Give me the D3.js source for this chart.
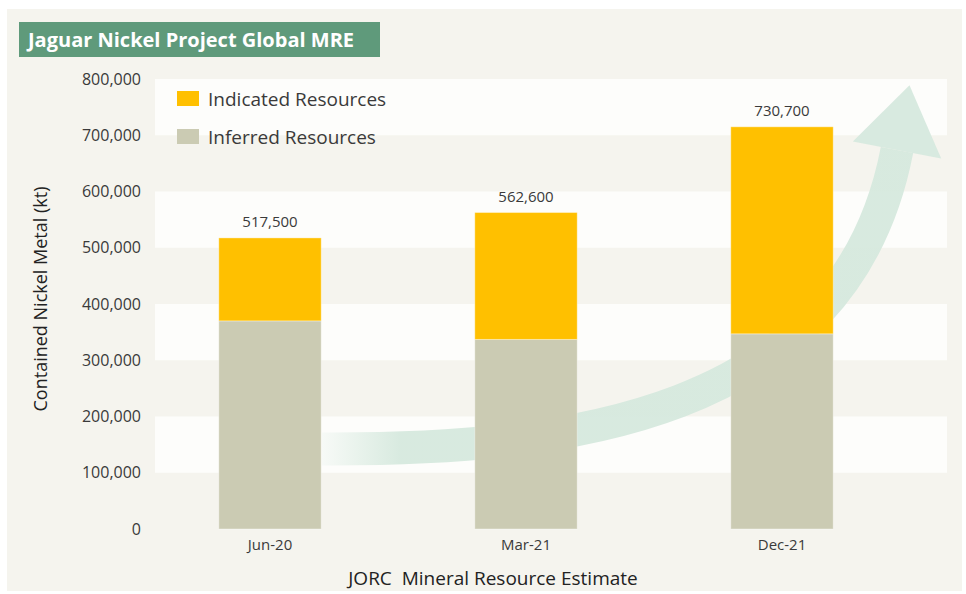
<!DOCTYPE html>
<html>
<head>
<meta charset="utf-8">
<script src="https://cdn.jsdelivr.net/npm/d3@7"></script>
<style>
  html, body { margin: 0; padding: 0; background: #ffffff; }
  svg { display: block; font-family: "Open Sans", "Lato", sans-serif; }
</style>
</head>
<body>
<div id="chart"></div>
<script>
// data
var categories = ["Jun-20", "Mar-21", "Dec-21"];
var inferred = [370000, 337000, 347000];
var indicated = [147500, 225600, 368000];
var totalLabels = ["517,500", "562,600", "730,700"];
var yTicks = [0, 100000, 200000, 300000, 400000, 500000, 600000, 700000, 800000];
var seriesNames = ["Indicated Resources", "Inferred Resources"];
var seriesColors = ["#ffc000", "#cbcbb3"];

var W = 966, H = 594;

var svg = d3.select("#chart")
  .append("svg")
  .attr("width", W)
  .attr("height", H);

// cream panel
svg.append("rect")
  .attr("x", 7).attr("y", 9)
  .attr("width", 955).attr("height", 582)
  .attr("fill", "#f5f4ee");

// title box
svg.append("rect")
  .attr("x", 19).attr("y", 22)
  .attr("width", 361).attr("height", 35)
  .attr("fill", "#5f9a7b");
svg.append("text")
  .attr("x", 28).attr("y", 47)
  .attr("fill", "#ffffff")
  .style("font-size", "20px")
  .style("font-weight", "bold")
  .text("Jaguar Nickel Project Global MRE");

// scales
var y = d3.scaleLinear()
  .domain([0, 800000])
  .range([529, 79]);

var x = d3.scaleBand()
  .domain(categories)
  .range([142, 910])
  .paddingInner(0.6)
  .paddingOuter(0.3);

// alternating bands
var bandPairs = [];
for (var i = 1; i < yTicks.length - 1; i += 2) {
  bandPairs.push([yTicks[i], yTicks[i + 1]]);
}
svg.append("g")
  .selectAll("rect")
  .data(bandPairs)
  .enter()
  .append("rect")
    .attr("x", 155)
    .attr("width", 947 - 155)
    .attr("y", function(d) { return y(d[1]); })
    .attr("height", function(d) { return y(d[0]) - y(d[1]); })
    .attr("fill", "#fdfdfb");

// y axis labels (no lines)
var yAxis = svg.append("g")
  .attr("transform", "translate(141,0)")
  .call(d3.axisLeft(y).tickValues(yTicks).tickSize(0).tickPadding(0).tickFormat(d3.format(",")));
yAxis.select(".domain").remove();
yAxis.selectAll("text")
  .style("font-family", "'Open Sans', sans-serif")
  .style("font-size", "16px")
  .attr("fill", "#3a3a3a");

// growth arrow (decoration)
var defs = svg.append("defs");
var grad = defs.append("linearGradient")
  .attr("id", "arrowFade")
  .attr("gradientUnits", "userSpaceOnUse")
  .attr("x1", 322).attr("y1", 0)
  .attr("x2", 400).attr("y2", 0);
grad.append("stop").attr("offset", 0).attr("stop-color", "#d6e9de").attr("stop-opacity", 0.15);
grad.append("stop").attr("offset", 1).attr("stop-color", "#d6e9de").attr("stop-opacity", 0.95);

var p0 = [322, 449], p1 = [560, 450], p2 = [845, 420], p3 = [897, 150];
var arrowPath = d3.path();
arrowPath.moveTo(p0[0], p0[1]);
arrowPath.bezierCurveTo(p1[0], p1[1], p2[0], p2[1], p3[0], p3[1]);
svg.append("path")
  .attr("d", arrowPath.toString())
  .attr("fill", "none")
  .attr("stroke", "url(#arrowFade)")
  .attr("stroke-width", 33);

// arrow head, aligned with the curve end
var dx = p3[0] - p2[0], dy = p3[1] - p2[1];
var len = Math.sqrt(dx * dx + dy * dy);
var ux = dx / len, uy = dy / len;
var nx = -uy, ny = ux;
var headLen = 66, headHalf = 45;
var head = [
  [p3[0] + nx * headHalf, p3[1] + ny * headHalf],
  [p3[0] + ux * headLen, p3[1] + uy * headLen],
  [p3[0] - nx * headHalf, p3[1] - ny * headHalf]
];
svg.append("path")
  .attr("d", d3.line()(head) + "Z")
  .attr("fill", "#d6e9de")
  .attr("fill-opacity", 0.95);

// stacked bars
var stackData = categories.map(function(c, i) {
  return { cat: c, inferred: inferred[i], indicated: indicated[i] };
});
var stacked = d3.stack().keys(["inferred", "indicated"])(stackData);
var keyColor = { inferred: seriesColors[1], indicated: seriesColors[0] };

svg.append("g")
  .selectAll("g")
  .data(stacked)
  .enter()
  .append("g")
    .attr("fill", function(d) { return keyColor[d.key]; })
  .selectAll("rect")
  .data(function(d) { return d; })
  .enter()
  .append("rect")
    .attr("x", function(d) { return x(d.data.cat); })
    .attr("y", function(d) { return y(d[1]); })
    .attr("width", x.bandwidth())
    .attr("height", function(d) { return y(d[0]) - y(d[1]); })
    .attr("stroke", "rgba(255,255,255,0.35)")
    .attr("stroke-width", 1);

// total labels
svg.append("g")
  .selectAll("text")
  .data(stackData)
  .enter()
  .append("text")
    .attr("x", function(d) { return x(d.cat) + x.bandwidth() / 2; })
    .attr("y", function(d) { return y(d.inferred + d.indicated) - 11; })
    .attr("text-anchor", "middle")
    .attr("fill", "#3a3a3a")
    .style("font-size", "15px")
    .text(function(d, i) { return totalLabels[i]; });

// x axis labels
var xAxis = svg.append("g")
  .attr("transform", "translate(0,539)")
  .call(d3.axisBottom(x).tickSize(0).tickPadding(0));
xAxis.select(".domain").remove();
xAxis.selectAll("text")
  .style("font-family", "'Open Sans', sans-serif")
  .style("font-size", "15px")
  .attr("fill", "#3a3a3a");

// axis titles
svg.append("text")
  .attr("x", 493).attr("y", 585)
  .attr("text-anchor", "middle")
  .attr("fill", "#222")
  .style("font-size", "19px")
  .style("white-space", "pre")
  .text("JORC  Mineral Resource Estimate");

svg.append("text")
  .attr("transform", "translate(47,299) rotate(-90)")
  .attr("text-anchor", "middle")
  .attr("fill", "#222")
  .style("font-size", "18px")
  .text("Contained Nickel Metal (kt)");

// legend
var legend = svg.append("g")
  .selectAll("g")
  .data(seriesNames)
  .enter()
  .append("g")
    .attr("transform", function(d, i) { return "translate(177," + (91 + i * 38) + ")"; });
legend.append("rect")
  .attr("width", 22).attr("height", 15)
  .attr("fill", function(d, i) { return seriesColors[i]; });
legend.append("text")
  .attr("x", 31).attr("y", 8)
  .attr("dy", "0.35em")
  .attr("fill", "#3a3a3a")
  .style("font-size", "19px")
  .text(function(d) { return d; });
</script>
</body>
</html>
